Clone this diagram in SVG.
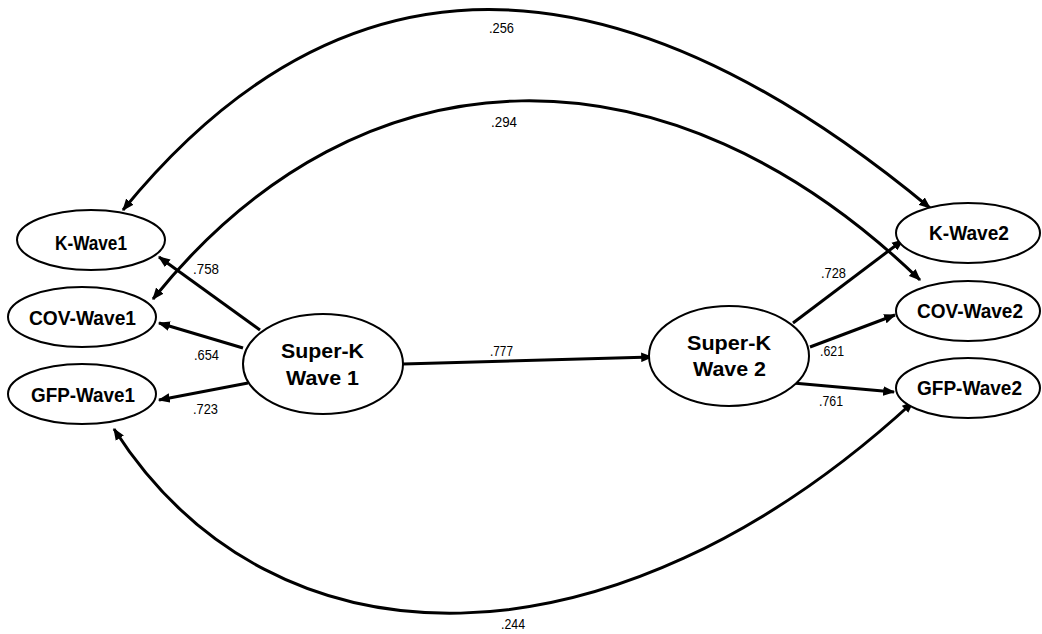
<svg xmlns="http://www.w3.org/2000/svg" width="1042" height="634" viewBox="0 0 1042 634">
  <style>
    .node { fill: #ffffff; stroke: #000000; stroke-width: 2; }
    .lbl { font-family: "Liberation Sans Narrow", "Liberation Sans", Arial, sans-serif; font-weight: bold; font-size: 21px; fill: #000000; }
    .num { font-family: "Liberation Sans Narrow", "Liberation Sans", Arial, sans-serif; font-size: 15px; fill: #000000; }
    .edge { fill: none; stroke: #000000; stroke-width: 3; }
    .arc { fill: none; stroke: #000000; stroke-width: 3; }
  </style>
  <defs>
    <marker id="ah" viewBox="0 0 10 8" refX="9" refY="4" markerWidth="12" markerHeight="10" markerUnits="userSpaceOnUse" orient="auto-start-reverse">
      <path d="M0,0 L10,4 L0,8 z" fill="#000000"/>
    </marker>
  </defs>
  <rect width="1042" height="634" fill="#ffffff"/>

  <g id="connectors">
    <path class="arc" d="M123,210 C341,-57 610,-57 930,208" marker-start="url(#ah)" marker-end="url(#ah)"/>
    <path class="arc" d="M153,299 C363,38 670,38 920,280" marker-start="url(#ah)" marker-end="url(#ah)"/>
    <path class="arc" d="M114,429 C274,679 612,679 913,402" marker-start="url(#ah)" marker-end="url(#ah)"/>
    <line class="edge" x1="260" y1="330" x2="159" y2="257" marker-end="url(#ah)"/>
    <line class="edge" x1="243" y1="348" x2="159" y2="323" marker-end="url(#ah)"/>
    <line class="edge" x1="248" y1="383" x2="159" y2="400" marker-end="url(#ah)"/>
    <line class="edge" x1="403" y1="364" x2="652" y2="357" marker-end="url(#ah)"/>
    <line class="edge" x1="793" y1="323" x2="903" y2="240" marker-end="url(#ah)"/>
    <line class="edge" x1="810" y1="347" x2="895" y2="315" marker-end="url(#ah)"/>
    <line class="edge" x1="793" y1="383" x2="894" y2="392" marker-end="url(#ah)"/>
    <text class="num" x="489" y="33" textLength="25" lengthAdjust="spacingAndGlyphs">.256</text>
    <text class="num" x="491" y="127" textLength="26" lengthAdjust="spacingAndGlyphs">.294</text>
    <text class="num" x="501" y="629" textLength="24" lengthAdjust="spacingAndGlyphs">.244</text>
    <text class="num" x="193" y="274" textLength="26" lengthAdjust="spacingAndGlyphs">.758</text>
    <text class="num" x="194" y="360" textLength="25" lengthAdjust="spacingAndGlyphs">.654</text>
    <text class="num" x="193" y="414" textLength="25" lengthAdjust="spacingAndGlyphs">.723</text>
    <text class="num" x="490" y="356" textLength="23" lengthAdjust="spacingAndGlyphs">.777</text>
    <text class="num" x="821" y="278" textLength="25" lengthAdjust="spacingAndGlyphs">.728</text>
    <text class="num" x="820" y="356" textLength="24" lengthAdjust="spacingAndGlyphs">.621</text>
    <text class="num" x="819" y="406" textLength="24" lengthAdjust="spacingAndGlyphs">.761</text>
  </g>

  <g id="k-wave1">
    <ellipse class="node" cx="91" cy="240" rx="74" ry="30"/>
    <text class="lbl" x="55" y="250" textLength="72" lengthAdjust="spacingAndGlyphs">K-Wave1</text>
  </g>
  <g id="cov-wave1">
    <ellipse class="node" cx="82" cy="317" rx="74" ry="30"/>
    <text class="lbl" x="29" y="325" textLength="107" lengthAdjust="spacingAndGlyphs">COV-Wave1</text>
  </g>
  <g id="gfp-wave1">
    <ellipse class="node" cx="82" cy="394" rx="74" ry="30"/>
    <text class="lbl" x="31" y="402" textLength="104" lengthAdjust="spacingAndGlyphs">GFP-Wave1</text>
  </g>
  <g id="super-k-wave1">
    <ellipse class="node" cx="323" cy="364" rx="80" ry="50"/>
    <text class="lbl" x="281" y="358" textLength="83" lengthAdjust="spacingAndGlyphs">Super-K</text>
    <text class="lbl" x="286" y="385" textLength="73" lengthAdjust="spacingAndGlyphs">Wave 1</text>
  </g>
  <g id="super-k-wave2">
    <ellipse class="node" cx="729" cy="356" rx="80" ry="50"/>
    <text class="lbl" x="687" y="350" textLength="84" lengthAdjust="spacingAndGlyphs">Super-K</text>
    <text class="lbl" x="693" y="376" textLength="73" lengthAdjust="spacingAndGlyphs">Wave 2</text>
  </g>
  <g id="k-wave2">
    <ellipse class="node" cx="968" cy="233" rx="72" ry="30"/>
    <text class="lbl" x="929" y="240" textLength="80" lengthAdjust="spacingAndGlyphs">K-Wave2</text>
  </g>
  <g id="cov-wave2">
    <ellipse class="node" cx="968" cy="311" rx="72" ry="30"/>
    <text class="lbl" x="917" y="318" textLength="106" lengthAdjust="spacingAndGlyphs">COV-Wave2</text>
  </g>
  <g id="gfp-wave2">
    <ellipse class="node" cx="968" cy="388" rx="72" ry="30"/>
    <text class="lbl" x="917" y="395" textLength="105" lengthAdjust="spacingAndGlyphs">GFP-Wave2</text>
  </g>
</svg>
